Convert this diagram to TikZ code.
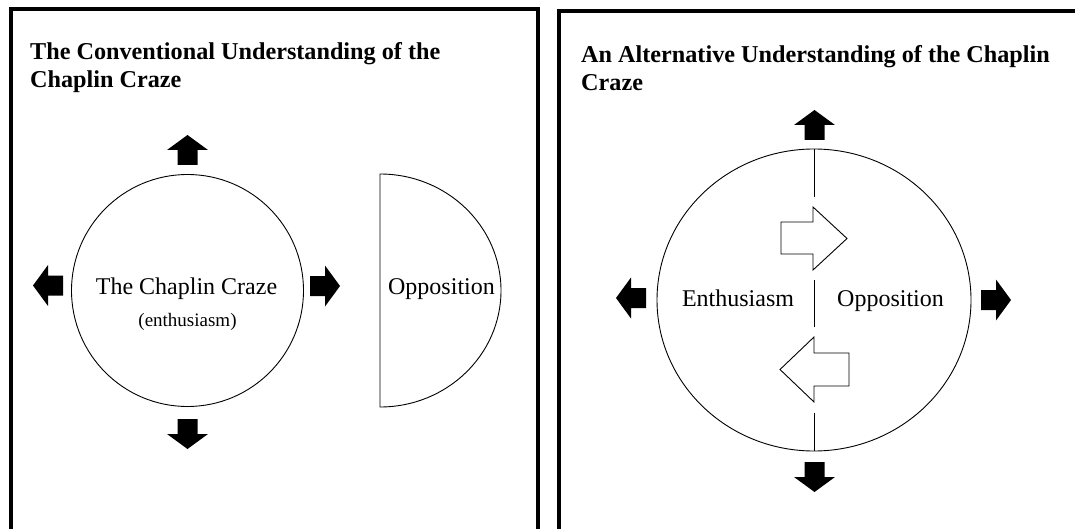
\documentclass[tikz,border=0pt]{standalone}
\usepackage{fontspec}
\setmainfont{Liberation Serif}
\usetikzlibrary{shapes.geometric}
\tikzset{
  frame/.style={line width=3.5pt, line cap=butt},
  outline/.style={line width=0.9pt},
  solidarrow/.style={fill=black, draw=none},
  hollowarrow/.style={fill=white, draw=black, line width=0.9pt, line join=miter},
  titletext/.style={anchor=base west, inner sep=0pt, font=\fontsize{24.2}{28}\selectfont\bfseries},
  bodytext/.style={anchor=base, inner sep=0pt, font=\fontsize{24}{28}\selectfont},
  smalltext/.style={anchor=base, inner sep=0pt, font=\fontsize{19}{22}\selectfont},
  pics/arrR/.style={code={\path[solidarrow] (0,-10)--(15,-10)--(15,-20.5)--(30,0)--(15,20.5)--(15,10)--(0,10)--cycle;}},
  pics/arrL/.style={code={\path[solidarrow] (0,-10)--(-15,-10)--(-15,-20.5)--(-30,0)--(-15,20.5)--(-15,10)--(0,10)--cycle;}},
  pics/arrU/.style={code={\path[solidarrow] (-10,0)--(-10,-15)--(-20.5,-15)--(0,-30)--(20.5,-15)--(10,-15)--(10,0)--cycle;}},
  pics/arrD/.style={code={\path[solidarrow] (-10,0)--(-10,15)--(-20.5,15)--(0,30)--(20.5,15)--(10,15)--(10,0)--cycle;}},
}
\begin{document}
\begin{tikzpicture}[x=1pt,y=-1pt]
\useasboundingbox (0,0) rectangle (1075,529);
\clip (0,0) rectangle (1075,529);
\fill[white] (0,0) rectangle (1075,529);

% ---------- left panel ----------
\draw[frame] (11,560) -- (11,9) -- (538,9) -- (538,560);
\node[titletext] (ltitleA) at (30,60) {The Conventional Understanding of the};
\node[titletext] (ltitleB) at (30,88) {Chaplin Craze};

\node[draw, outline, circle, minimum size=232pt, inner sep=0pt] (craze) at (187.5,290.5) {};
\node[bodytext] (crazetext) at (186.5,294) {The Chaplin Craze};
\node[smalltext] (enthus) at (187.5,326) {(enthusiasm)};

\draw[outline] (380,174) arc[start angle=-90, end angle=90, x radius=121, y radius=116.5] -- cycle;
\node[bodytext] (opp) at (441.5,294) {Opposition};

\pic at (187.5,165) {arrU};
\pic at (187.5,419) {arrD};
\pic at (63,285.5) {arrL};
\pic at (310,286) {arrR};

% ---------- right panel ----------
\draw[frame] (559,560) -- (559,11) -- (1090,11);
\node[titletext] (rtitleA) at (581,63) {An Alternative Understanding of the Chaplin};
\node[titletext] (rtitleB) at (581,91) {Craze};

\node[draw, outline, ellipse, minimum width=314pt, minimum height=302pt, inner sep=0pt] (whole) at (814,300) {};
\coordinate (top) at (814,149);
\coordinate (bot) at (814,451);
\coordinate (s1) at (814,197);
\coordinate (s2) at (814,280);
\coordinate (s3) at (814,327);
\coordinate (s4) at (814,413);
\draw[outline] (top) -- (s1);
\draw[outline] (s2) -- (s3);
\draw[outline] (s4) -- (bot);

\path[hollowarrow] (781,222) -- (813,222) -- (813,207) -- (847,238.5) -- (813,270) -- (813,254) -- (781,254) -- cycle;
\path[hollowarrow] (849,353) -- (814,353) -- (814,337) -- (780,369.5) -- (814,402) -- (814,386) -- (849,386) -- cycle;

\node[bodytext] (ent) at (738,306) {Enthusiasm};
\node[bodytext] (opp2) at (890.5,306) {Opposition};

\pic at (814.5,140) {arrU};
\pic at (814.5,462) {arrD};
\pic at (646,298) {arrL};
\pic at (981,300) {arrR};
\end{tikzpicture}
\end{document}
